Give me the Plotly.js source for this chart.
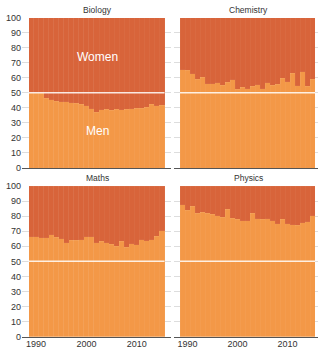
<!DOCTYPE html>
<html>
<head>
<meta charset="utf-8">
<script src="https://cdn.plot.ly/plotly-3.0.1.min.js"></script>
<style>html,body{margin:0;padding:0;background:#fff;}#chart{width:318px;height:347px;}</style>
</head>
<body>
<div id="chart"></div>
<script>
const years = [];
for (let y = 1989; y <= 2015; y++) years.push(y);

const subjects = ["Biology", "Chemistry", "Maths", "Physics"];

// Share of men (%) per year; women = 100 - men
const biologyMen = [50,50,50,46.5,45.5,44.5,44,44,43.5,43,42.5,41.5,39.5,37,38.7,39.1,38.4,39.1,38.7,39,39.3,39.6,39.8,40.4,42.4,41.3,41.8];
const chemistryMen = [65.3,64.9,62.7,59.1,60.4,56,56,56.7,54.9,57.1,58.7,52.4,53.6,52.7,54.2,55.2,52.5,56.5,55.1,55.8,59.8,57.2,62.8,54.8,63.8,54.2,59];
const mathsMen = [66.3,66.2,65.8,65.6,67.8,65.9,65,62.3,64,64,64.5,66.3,66.2,62.5,63.2,62.3,61.5,60,63.3,59.3,61.8,61,64.5,63.6,64.2,66.5,70.3];
const physicsMen = [87.5,84,86.5,82,82.7,82,81.2,80.2,79.2,84.5,78.5,77.8,76.8,76.8,82,78.2,77.8,78.4,77.1,74.9,77.8,75.1,74.2,74,75.6,76.2,80.2];

const menSeries = [biologyMen, chemistryMen, mathsMen, physicsMen];
const yTicks = [0,10,20,30,40,50,60,70,80,90,100];
const xTicks = [1990, 2000, 2010];

const menColor = "#F39847";
const womenColor = "#D8643A";
const W = 318, H = 347;

const traces = [];
const axSuffix = ["", "2", "3", "4"];
menSeries.forEach((men, i) => {
  const xa = "x" + axSuffix[i], ya = "y" + axSuffix[i];
  traces.push({type: "bar", x: years, y: men, xaxis: xa, yaxis: ya, name: "Men",
    marker: {color: menColor, line: {width: 0.4, color: "rgba(255,255,255,0.12)"}}, showlegend: false, hoverinfo: "skip"});
  traces.push({type: "bar", x: years, y: men.map(v => 100 - v), xaxis: xa, yaxis: ya, name: "Women",
    marker: {color: womenColor, line: {width: 0.4, color: "rgba(255,255,255,0.10)"}}, showlegend: false, hoverinfo: "skip"});
});

const fontFam = "Liberation Sans, Arial, sans-serif";
function xaxis(domPx, rangeYears, showLabels) {
  return {domain: [domPx[0]/W, domPx[1]/W], range: rangeYears, showgrid: false, zeroline: false, automargin: false,
    showline: true, linecolor: "#555", linewidth: 1, ticks: "", tickvals: xTicks, ticklabelstandoff: -2,
    showticklabels: showLabels, tickfont: {size: 9, color: "#333", family: fontFam}, fixedrange: true};
}
function yaxis(topPx, botPx, showLabels, anchor) {
  return {domain: [(H - botPx)/H, (H - topPx)/H], range: [0, 100], tickvals: yTicks, automargin: false,
    showgrid: true, gridcolor: "#dddddd", gridwidth: 1, zeroline: false, showline: false, ticks: "",
    showticklabels: showLabels, tickfont: {size: 9, color: "#333", family: fontFam}, anchor: anchor, fixedrange: true};
}
const leftDom = [22, 171], rightDom = [174, 318];
const leftRange = [1987.21, 2016.79], rightRange = [1987.3, 2016.1];

function title(text, xPx, yPx) {
  return {text: text, x: xPx/W, y: (H - yPx)/H, xref: "paper", yref: "paper", xanchor: "center", yanchor: "middle",
    showarrow: false, font: {size: 8.5, color: "#333"}};
}

const layout = {
  width: W, height: H, margin: {l: 0, r: 0, t: 0, b: 0, autoexpand: false},
  paper_bgcolor: "#fff", plot_bgcolor: "rgba(0,0,0,0)",
  barmode: "stack", bargap: 0,
  font: {family: fontFam},
  xaxis: Object.assign(xaxis(leftDom, leftRange, false), {anchor: "y"}),
  yaxis: yaxis(17.5, 168, true, "x"),
  xaxis2: Object.assign(xaxis(rightDom, rightRange, false), {anchor: "y2"}),
  yaxis2: yaxis(17.5, 168, false, "x2"),
  xaxis3: Object.assign(xaxis(leftDom, leftRange, true), {anchor: "y3"}),
  yaxis3: yaxis(186, 336.7, true, "x3"),
  xaxis4: Object.assign(xaxis(rightDom, rightRange, true), {anchor: "y4"}),
  yaxis4: yaxis(186, 336.7, false, "x4"),
  shapes: axSuffix.map(s => ({type: "line", xref: "x" + s, yref: "y" + s, x0: 1988.5, x1: 2015.5, y0: 50, y1: 50,
    line: {color: "rgba(255,255,255,0.85)", width: 1.5}, layer: "above"})),
  annotations: [
    title(subjects[0], 97, 9.5),
    title(subjects[1], 248, 9.5),
    title(subjects[2], 97, 178),
    title(subjects[3], 248, 178),
    {text: "Women", x: 2002.1, y: 74, xref: "x", yref: "y", xanchor: "center", showarrow: false, font: {size: 12, color: "#fff"}},
    {text: "Men", x: 2002.1, y: 24.7, xref: "x", yref: "y", xanchor: "center", showarrow: false, font: {size: 12, color: "#fff"}}
  ]
};

Plotly.newPlot("chart", traces, layout, {displayModeBar: false, staticPlot: true});
</script>
</body>
</html>
